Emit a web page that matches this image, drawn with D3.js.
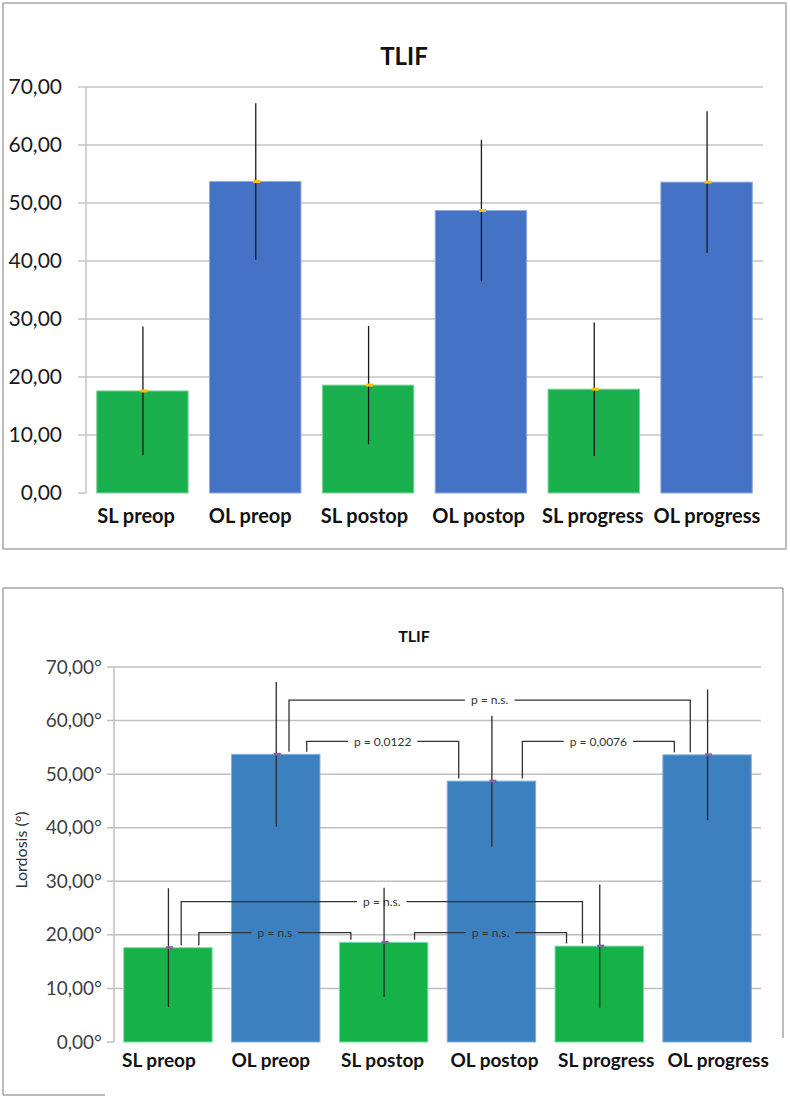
<!DOCTYPE html>
<html>
<head>
<meta charset="utf-8">
<script src="https://cdn.jsdelivr.net/npm/d3@7"></script>
<style>
  html, body { margin: 0; padding: 0; background: #ffffff; }
  svg { display: block; }
  text { font-family: Lato, "Open Sans", "Liberation Sans", sans-serif; }
</style>
</head>
<body>
<svg id="chart" width="790" height="1099"></svg>
<script>
// ---------- data ----------
const categories = ["SL preop", "OL preop", "SL postop", "OL postop", "SL progress", "OL progress"];
const groups     = ["SL", "OL", "SL", "OL", "SL", "OL"];
const means      = [17.6, 53.7, 18.6, 48.7, 17.9, 53.6];
const sds        = [11.1, 13.5, 10.2, 12.2, 11.5, 12.2];
const tickValues = [0, 10, 20, 30, 40, 50, 60, 70];
const chartTitle = "TLIF";
const yAxisTitle = "Lordosis (°)";
// significance brackets (bottom chart): from/to category index, bracket level (data units), label
const bracketFrom   = [1, 1, 3, 0, 0, 2];
const bracketTo     = [5, 3, 5, 4, 2, 4];
const bracketLevel  = [63.8, 56.1, 56.1, 26.2, 20.4, 20.4];
const bracketLabels = ["p = n.s.", "p = 0,0122", "p = 0,0076", "p = n.s.", "p = n.s", "p = n.s."];

const data = categories.map((c, i) => ({ cat: c, group: groups[i], mean: means[i], sd: sds[i] }));

const locale = d3.formatLocale({ decimal: ",", thousands: ".", grouping: [3], currency: ["", "€"] });
const fmt = locale.format(".2f");

const svg = d3.select("#chart");

function drawPanel(cfg) {
  const g = svg.append("g");
  // frame
  cfg.frame.forEach(f => g.append("line").attr("x1", f[0]).attr("y1", f[1]).attr("x2", f[2]).attr("y2", f[3])
      .attr("stroke", cfg.frameColor).attr("stroke-width", 1.5));

  const x = d3.scaleBand().domain(categories).range([cfg.left, cfg.right])
      .paddingInner(cfg.padIn).paddingOuter(cfg.padOut);
  const xl = d3.scaleBand().domain(categories).range(cfg.labelRange);
  const y = d3.scaleLinear().domain([0, 70]).range([cfg.y0, cfg.y70]);

  // gridlines
  g.selectAll(".grid").data(tickValues).join("line")
    .attr("x1", cfg.left - cfg.tickLen)
    .attr("x2", d => d === 0 ? cfg.left : cfg.right)
    .attr("y1", d => y(d)).attr("y2", d => y(d))
    .attr("stroke", cfg.gridColor).attr("stroke-width", 1.5);
  // y axis line
  g.append("line").attr("x1", cfg.left).attr("x2", cfg.left)
    .attr("y1", y(70)).attr("y2", y(0))
    .attr("stroke", cfg.gridColor).attr("stroke-width", 1.5);

  // tick labels through d3 axis
  const axis = d3.axisLeft(y).tickValues(tickValues).tickSize(0)
      .tickPadding(cfg.tickLen + cfg.labelGap)
      .tickFormat(d => fmt(d) + cfg.suffix);
  const ag = g.append("g").attr("transform", `translate(${cfg.left},0)`).call(axis);
  ag.select(".domain").remove();
  ag.selectAll("text").attr("font-size", cfg.tickFont).attr("fill", cfg.tickColor)
    .style("font-family", "Lato, 'Open Sans', sans-serif");

  // bars
  g.selectAll(".bar").data(data).join("rect")
    .attr("x", d => x(d.cat)).attr("width", x.bandwidth())
    .attr("y", d => y(d.mean)).attr("height", d => y(0) - y(d.mean))
    .attr("fill", d => d.group === "SL" ? cfg.green : cfg.blue)
    .attr("stroke", d => d.group === "SL" ? cfg.greenEdge : cfg.blueEdge)
    .attr("stroke-width", 1);

  // error bars
  g.selectAll(".err").data(data).join("line")
    .attr("x1", d => x(d.cat) + x.bandwidth() / 2 + 0.5)
    .attr("x2", d => x(d.cat) + x.bandwidth() / 2 + 0.5)
    .attr("y1", d => y(d.mean + d.sd)).attr("y2", d => y(d.mean - d.sd))
    .attr("stroke", cfg.errColor).attr("stroke-width", 1.3);
  // mean markers
  g.selectAll(".mk").data(data).join("rect")
    .attr("x", d => x(d.cat) + x.bandwidth() / 2 - 2)
    .attr("y", d => y(d.mean) - 1.5)
    .attr("width", 7).attr("height", 3)
    .attr("fill", cfg.marker);

  // category labels
  g.selectAll(".cl").data(data).join("text")
    .attr("x", d => xl(d.cat) + xl.bandwidth() / 2)
    .attr("y", cfg.labelY)
    .attr("text-anchor", "middle")
    .attr("font-size", cfg.catFont).attr("font-weight", "bold").attr("fill", "#111")
    .text(d => d.cat);

  // title
  g.append("text").attr("x", cfg.titleX).attr("y", cfg.titleY).attr("text-anchor", "middle")
    .attr("font-size", cfg.titleFont).attr("font-weight", "bold").attr("fill", "#111")
    .text(chartTitle);

  return { g, x, y };
}

// ---------- top panel ----------
drawPanel({
  frame: [[3, 3, 786, 3], [3, 3, 3, 549], [3, 549, 786, 549], [786, 3, 786, 549]],
  frameColor: "#a6a6a6",
  left: 86, right: 763, y0: 493, y70: 87,
  padIn: 0.19, padOut: 0.095,
  labelRange: [79, 764],
  tickLen: 8, labelGap: 16, tickFont: 21, tickColor: "#1a1a1a", suffix: "",
  gridColor: "#c4c4c4",
  green: "#19b04d", greenEdge: "#7fd39c", blue: "#4472c4", blueEdge: "#8eaadf",
  errColor: "#1a1a1a", marker: "#ffc000",
  labelY: 523, catFont: 20,
  titleX: 404, titleY: 65, titleFont: 24
});

// ---------- bottom panel ----------
const bottom = drawPanel({
  frame: [[3, 588, 783, 588], [3, 588, 3, 1095], [3, 1095, 105, 1095], [783, 588, 783, 1038]],
  frameColor: "#a6a6a6",
  left: 114, right: 761, y0: 1042, y70: 667,
  padIn: 0.18, padOut: 0.09,
  labelRange: [103, 774],
  tickLen: 7, labelGap: 5, tickFont: 19, tickColor: "#404040", suffix: "°",
  gridColor: "#bfbfbf",
  green: "#17b247", greenEdge: "#6ee0b0", blue: "#3c80c0", blueEdge: "#7fb0dc",
  errColor: "#2a2a2a", marker: "#8064a2",
  labelY: 1067, catFont: 19,
  titleX: 414, titleY: 642, titleFont: 16
});

// y axis title
bottom.g.append("text")
  .attr("transform", "translate(27,850) rotate(-90)")
  .attr("text-anchor", "middle")
  .attr("font-size", 16).attr("fill", "#333")
  .text(yAxisTitle);

// brackets
(function drawBrackets() {
  const { g, x, y } = bottom;
  const bg = g.append("g");
  const cx = i => x(categories[i]) + x.bandwidth() / 2;
  bracketLabels.forEach((lab, k) => {
    const a = bracketFrom[k], b = bracketTo[k];
    const span = b - a;
    const off = span > 2 ? 0.15 : 0.35;
    const offR = span > 2 ? 0.19 : 0.37;
    const x1 = cx(a) + off * x.bandwidth();
    const x2 = cx(b) - offR * x.bandwidth();
    const yl = y(bracketLevel[k]);
    const ya = y(means[a]) - 2.5, yb = y(means[b]) - 2.5;
    const mid = (x1 + x2) / 2;
    const t = bg.append("text").attr("x", mid).attr("y", yl).attr("dy", "0.35em")
      .attr("text-anchor", "middle").attr("font-size", 12).attr("fill", "#333").text(lab);
    const w = t.node().getComputedTextLength();
    const gap = 6;
    const path = d3.path();
    path.moveTo(x1, ya); path.lineTo(x1, yl); path.lineTo(mid - w / 2 - gap, yl);
    path.moveTo(mid + w / 2 + gap, yl); path.lineTo(x2, yl); path.lineTo(x2, yb);
    bg.append("path").attr("d", path.toString()).attr("fill", "none")
      .attr("stroke", "#333").attr("stroke-width", 1.3);
  });
})();
</script>
</body>
</html>
